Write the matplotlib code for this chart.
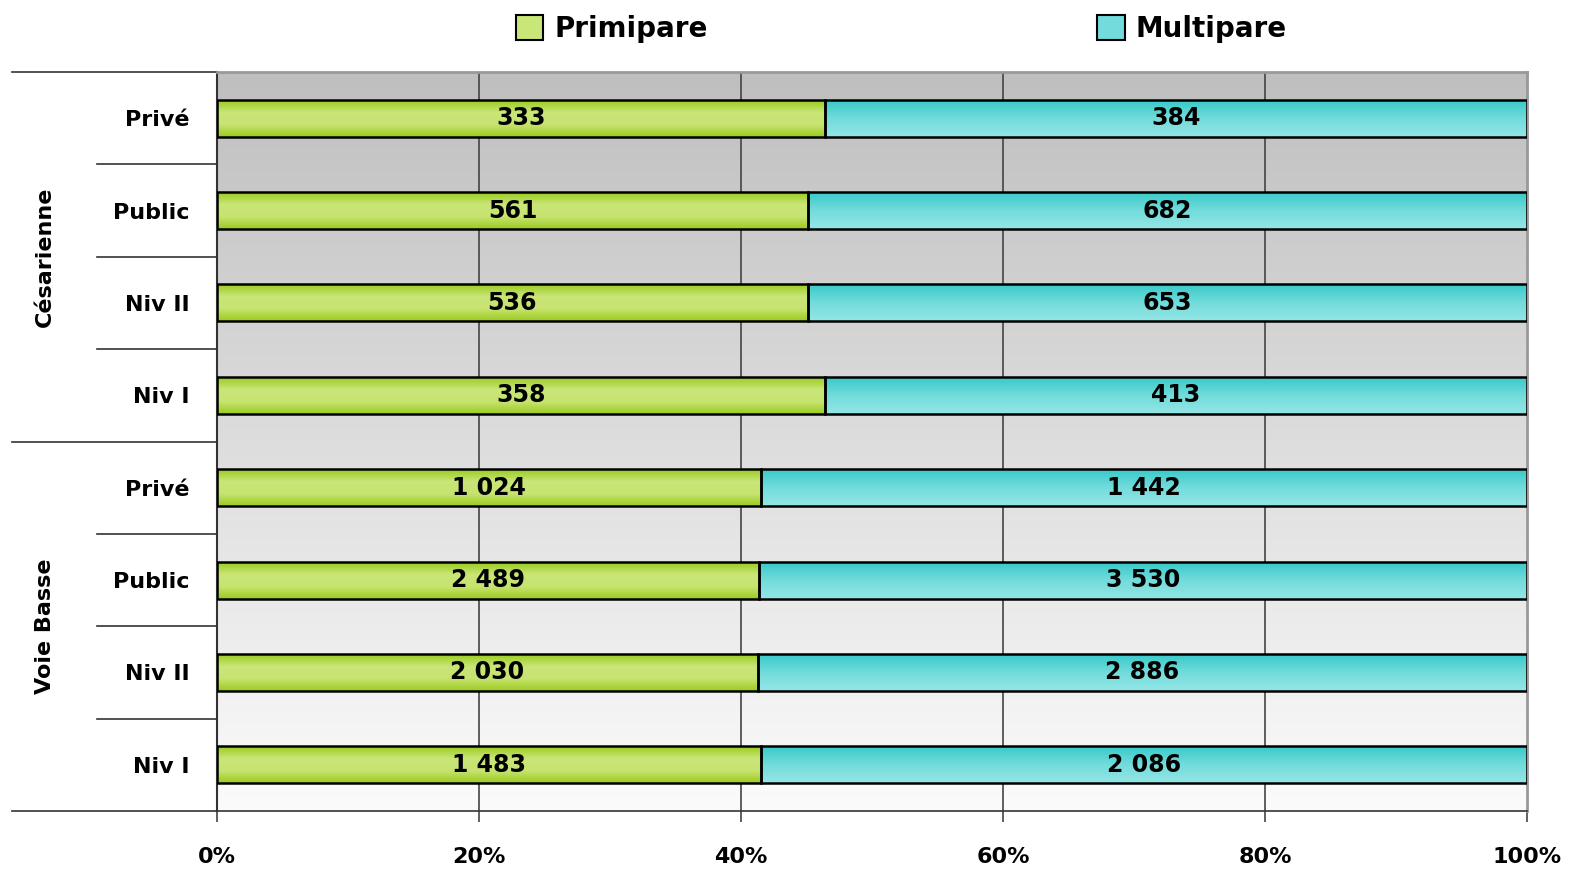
import numpy as np
import matplotlib
matplotlib.use("Agg")
import matplotlib.pyplot as plt
from matplotlib.patches import Patch
from matplotlib.colors import LinearSegmentedColormap
from matplotlib.ticker import FuncFormatter

plt.rcParams['font.family'] = ['DejaVu Sans']
plt.rcParams['font.weight'] = 'bold'

# data, top to bottom
groups = ['Césarienne', 'Voie Basse']
categories = ['Privé', 'Public', 'Niv II', 'Niv I',
              'Privé', 'Public', 'Niv II', 'Niv I']
primipare = [333, 561, 536, 358, 1024, 2489, 2030, 1483]
multipare = [384, 682, 653, 413, 1442, 3530, 2886, 2086]
series_names = ['Primipare', 'Multipare']
xticks = [0, 20, 40, 60, 80, 100]

GREEN_GRAD = [(0.60, 0.80, 0.12), (0.79, 0.90, 0.47), (0.78, 0.89, 0.44), (0.61, 0.80, 0.13)]
CYAN_GRAD = [(0.22, 0.79, 0.79), (0.45, 0.86, 0.86), (0.58, 0.90, 0.90)]


def fmt_num(v):
    return '{:,}'.format(v).replace(',', ' ')


prim = np.array(primipare, dtype=float)
mult = np.array(multipare, dtype=float)
tot = prim + mult
prim_pct = prim / tot * 100
mult_pct = mult / tot * 100
ypos = np.arange(len(categories))

fig = plt.figure(figsize=(15.7, 8.74), dpi=100)
ax = fig.add_axes([0.1382, 0.0721, 0.8344, 0.8455])

# background gradient
bg = LinearSegmentedColormap.from_list('bg', ['#fbfbfb', '#bfbfbf'])
ax.imshow(np.linspace(0, 1, 256).reshape(-1, 1), cmap=bg, aspect='auto',
          extent=[0, 1, 0, 1], transform=ax.transAxes, zorder=0, origin='lower')

for x in xticks[1:-1]:
    ax.axvline(x, color='#444444', lw=1.2, zorder=1)

bh = 0.40
bars1 = ax.barh(ypos, prim_pct, height=bh, facecolor='none', edgecolor='black', lw=1.8, zorder=3)
bars2 = ax.barh(ypos, mult_pct, left=prim_pct, height=bh, facecolor='none', edgecolor='black', lw=1.8, zorder=3)

gcm = LinearSegmentedColormap.from_list('g', GREEN_GRAD)
ccm = LinearSegmentedColormap.from_list('c', CYAN_GRAD)
grad = np.linspace(0, 1, 64).reshape(-1, 1)
for bars, cm in ((bars1, gcm), (bars2, ccm)):
    for b in bars:
        x0, y0, w, h = b.get_x(), b.get_y(), b.get_width(), b.get_height()
        ax.imshow(grad, cmap=cm, aspect='auto', extent=[x0, x0 + w, y0 + h, y0],
                  origin='upper', zorder=2, interpolation='bilinear')

ax.set_xlim(0, 100)
ax.set_ylim(len(categories) - 0.5, -0.5)

for i in range(len(categories)):
    ax.text(prim_pct[i] / 2, ypos[i], fmt_num(primipare[i]), ha='center', va='center',
            fontsize=17, fontweight='bold', zorder=4)
    ax.text(prim_pct[i] + mult_pct[i] / 2, ypos[i], fmt_num(multipare[i]), ha='center', va='center',
            fontsize=17, fontweight='bold', zorder=4)

ax.set_xticks(xticks)
ax.xaxis.set_major_formatter(FuncFormatter(lambda v, p: '%d%%' % v))
ax.tick_params(axis='x', length=8, width=1.2, color='#444444', pad=18, labelsize=16)
ax.set_yticks(ypos)
ax.set_yticklabels(categories, fontsize=16, fontweight='bold')
ax.tick_params(axis='y', length=0, pad=20)

for s in ['top', 'right']:
    ax.spines[s].set_color('#999999')
    ax.spines[s].set_linewidth(2)
ax.spines['left'].set_color('#333333')
ax.spines['left'].set_linewidth(1.5)
ax.spines['bottom'].set_color('#333333')
ax.spines['bottom'].set_linewidth(1.2)

# group separators and labels
trans = ax.get_yaxis_transform()
n_per = len(categories) // len(groups)
for g in range(len(groups) + 1):
    yy = g * n_per - 0.5
    ax.plot([-0.1565, 0], [yy, yy], color='#333333', lw=1.2, transform=trans, clip_on=False)
for i in range(1, len(categories)):
    if i % n_per:
        ax.plot([-0.0916, 0], [i - 0.5, i - 0.5], color='#333333', lw=1.2, transform=trans, clip_on=False)
for g, name in enumerate(groups):
    ax.text(-0.131, g * n_per + (n_per - 1) / 2, name, rotation=90, ha='center', va='center',
            fontsize=16, fontweight='bold', transform=trans)

handles = [Patch(facecolor=GREEN_GRAD[1], edgecolor='black', lw=1.5),
           Patch(facecolor=CYAN_GRAD[1], edgecolor='black', lw=1.5)]
fig.legend(handles, series_names, loc='center', bbox_to_anchor=(0.574, 0.967), ncol=2,
           frameon=False, columnspacing=14, handlelength=1.0, handleheight=1.0,
           handletextpad=0.4, prop={'weight': 'bold', 'size': 20})

fig.savefig('out.png', dpi=100)
